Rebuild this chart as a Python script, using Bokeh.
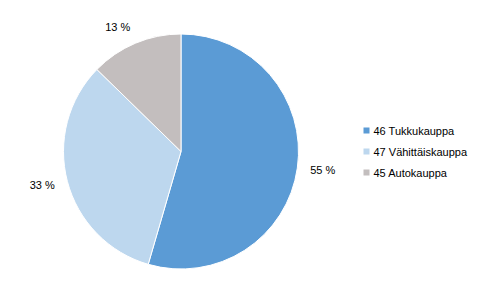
import math
from bokeh.plotting import figure
from bokeh.models import Range1d, ColumnDataSource
from bokeh.core.properties import value
from bokeh.embed import file_html
from bokeh.resources import INLINE

categories = ["46 Tukkukauppa", "47 Vähittäiskauppa", "45 Autokauppa"]
shares = [54.5, 32.8, 12.7]
labels = ["55 %", "33 %", "13 %"]
colors = ["#5B9BD5", "#BDD7EE", "#C3BEBE"]

W, H = 491, 302
cx, cy_pix, R = 180.5, 151.0, 117.5
cy = H - cy_pix

p = figure(width=W, height=H, output_backend="svg", toolbar_location=None,
           x_range=Range1d(0, W), y_range=Range1d(0, H), min_border=0,
           outline_line_color=None)
p.axis.visible = False
p.grid.visible = False
p.background_fill_color = "white"
p.border_fill_color = "white"

total = sum(shares)
starts, ends, mids = [], [], []
cum = 0.0
for s in shares:
    a0 = math.pi / 2 - 2 * math.pi * cum / total
    cum += s
    a1 = math.pi / 2 - 2 * math.pi * cum / total
    starts.append(a0)
    ends.append(a1)
    mids.append((a0 + a1) / 2)

src = ColumnDataSource(dict(start=starts, end=ends, color=colors, cat=categories))
p.wedge(x=cx, y=cy, radius=R, start_angle="start", end_angle="end",
        direction="clock", fill_color="color", line_color="white", line_width=1,
        source=src)

# data labels outside
lx, ly, la = [], [], []
for m in mids:
    r = R + 13
    x = cx + r * math.cos(m)
    y = cy + r * math.sin(m)
    if math.sin(m) > 0.8:
        y += 4
    lx.append(x)
    ly.append(y)
    la.append("left" if math.cos(m) > 0 else "right")
lab_src = ColumnDataSource(dict(x=lx, y=ly, text=labels, align=la))
p.text(x="x", y="y", text="text", text_align="align", text_baseline="middle",
       text_font_size="11px", text_font=value("Liberation Sans"), text_color="#000000",
       source=lab_src)

# legend
leg_x = 363
leg_y0 = H - 130
step = 21
ys = [leg_y0 - i * step for i in range(len(categories))]
p.rect(x=[leg_x + 3] * 3, y=ys, width=6, height=6, fill_color=colors, line_color=None)
p.text(x=[leg_x + 10] * 3, y=ys, text=categories, text_baseline="middle",
       text_font_size="11px", text_font=value("Liberation Sans"), text_color="#000000")

open("out.html", "w").write(file_html(p, INLINE))
